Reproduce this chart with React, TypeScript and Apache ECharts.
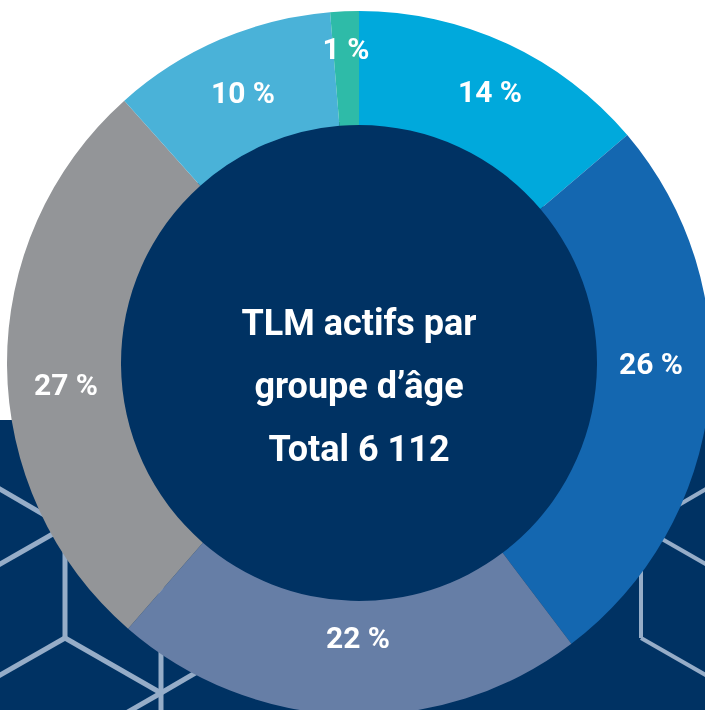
import React, { useEffect, useRef } from "react";
import * as echarts from "echarts";

// Data (counts; total 6 112)
const categories = ["Groupe 1", "Groupe 2", "Groupe 3", "Groupe 4", "Groupe 5", "Groupe 6"];
const counts = [843, 1583, 1326, 1650, 630, 80];
const sliceColors = ["#00A9DC", "#1467B0", "#667EA6", "#939598", "#4AB2D8", "#2EBBA8"];
const centerLines = ["TLM actifs par", "groupe d\u2019âge", "Total 6 112"];

// Layout (not data)
const labelPositions: number[][] = [
  [490, 91],
  [651, 363],
  [358, 637],
  [66, 384],
  [243, 92],
  [346, 48],
];
const NAVY = "#003263";
const LINE = "#96ADC8";
const CX = 359;
const CY = 363;

const hexSegments: number[][][] = [
  // left cube
  [[65, 527], [65, 638]],
  [[65, 527], [-31, 471]],
  [[65, 638], [-31, 693]],
  [[-31, 582], [65, 527]],
  // lower-left cube
  [[65, 638], [161, 693]],
  [[161, 693], [161, 803]],
  [[161, 693], [65, 748]],
  [[161, 693], [257, 637]],
  [[161, 693], [161, 582]],
];
const hexSegmentsRight: number[][][] = [
  [[641, 527], [737, 471]],
  [[641, 527], [641, 638]],
  [[641, 638], [737, 693]],
  [[641, 527], [737, 582]],
];

export default function App() {
  const ref = useRef<HTMLDivElement>(null);
  useEffect(() => {
    document.body.style.margin = "0";
    if (!ref.current) return;
    const chart = echarts.init(ref.current, null, { renderer: "svg" });
    const mkLine = (s: number[][], w: number) => ({
      type: "line",
      z: 0,
      shape: { x1: s[0][0], y1: s[0][1], x2: s[1][0], y2: s[1][1] },
      style: { stroke: LINE, lineWidth: w, lineCap: "butt" },
    });
    const graphics: any[] = [
      { type: "rect", z: 0, shape: { x: 0, y: 0, width: 705, height: 710 }, style: { fill: "#ffffff" } },
      { type: "rect", z: 0, shape: { x: 0, y: 420, width: 705, height: 290 }, style: { fill: NAVY } },
      ...hexSegments.map((s) => mkLine(s, 5)),
      ...hexSegmentsRight.map((s) => mkLine(s, 4)),
      { type: "circle", z: 1, shape: { cx: CX, cy: CY, r: 242 }, style: { fill: NAVY } },
      {
        type: "text",
        z: 10,
        x: CX,
        y: 386,
        style: {
          text: centerLines.join("\n"),
          fill: "#ffffff",
          font: "bold 36px Roboto",
          align: "center",
          verticalAlign: "middle",
          lineHeight: 63,
        },
      },
    ];
    chart.setOption({
      animation: false,
      graphic: graphics,
      series: [
        {
          type: "pie",
          z: 2,
          center: [CX, CY],
          radius: [238, 352],
          startAngle: 90,
          clockwise: true,
          silent: true,
          itemStyle: { borderWidth: 0 },
          label: {
            show: true,
            position: "inside",
            formatter: (p: any) => Math.round(p.percent) + " %",
            color: "#ffffff",
            fontFamily: "Roboto",
            fontWeight: "bold",
            fontSize: 30,
          },
          labelLine: { show: false },
          labelLayout: (params: any) => ({
            x: labelPositions[params.dataIndex][0],
            y: labelPositions[params.dataIndex][1],
            align: "center",
            verticalAlign: "middle",
          }),
          data: categories.map((name, i) => ({
            name,
            value: counts[i],
            itemStyle: { color: sliceColors[i] },
          })),
        },
      ],
    });
    return () => chart.dispose();
  }, []);
  return (
    <div
      ref={ref}
      style={{ position: "fixed", left: 0, top: 0, width: 705, height: 710 }}
    />
  );
}
